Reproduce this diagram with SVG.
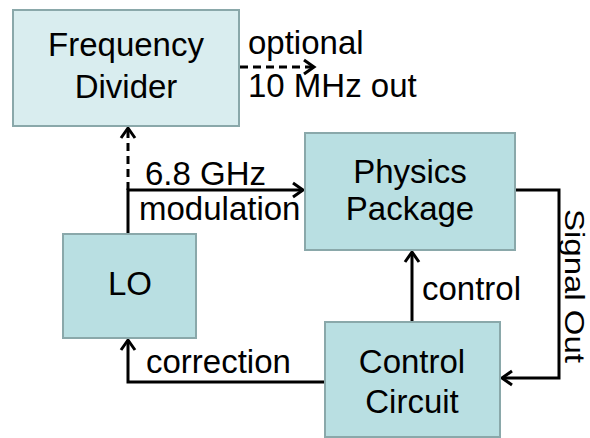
<svg xmlns="http://www.w3.org/2000/svg" width="590" height="438" viewBox="0 0 590 438">
<style>
.box{fill:#b9dfe2;stroke:#8aa8aa;stroke-width:2}
.light{fill:#d9edef}
.t{font-family:"Liberation Sans",Arial,sans-serif;font-size:33px;fill:#000}
.c{text-anchor:middle}
.ln{fill:none;stroke:#000;stroke-width:3}
.dash{stroke-dasharray:8 5}
</style>
<defs>
<marker id="arr" markerUnits="userSpaceOnUse" markerWidth="20" markerHeight="20" viewBox="-12 -10 14 20" refX="0" refY="0" orient="auto">
<path d="M-10,-7 L0,0 L-10,7" fill="none" stroke="#000" stroke-width="3"/>
</marker>
</defs>
<g id="connectors">
<path class="ln dash" d="M128,190 L128,128" marker-end="url(#arr)"/>
<path class="ln" d="M128,234 L128,190 L303,190" marker-end="url(#arr)"/>
<path class="ln dash" d="M240,67 L314,67" marker-end="url(#arr)"/>
<path class="ln" d="M515,190 L559,190 L559,378 L502,378" marker-end="url(#arr)"/>
<path class="ln" d="M412,322 L412,252" marker-end="url(#arr)"/>
<path class="ln" d="M325,382 L128,382 L128,340" marker-end="url(#arr)"/>
<text class="t" x="248" y="54">optional</text>
<text class="t" x="248" y="97">10 MHz out</text>
<text class="t" x="145" y="185">6.8 GHz</text>
<text class="t" x="139" y="220">modulation</text>
<text class="t" x="422" y="300">control</text>
<text class="t" x="146" y="373">correction</text>
<text class="t c" transform="translate(565,286) rotate(90) scale(1,0.82)">Signal Out</text>
</g>
<g id="freq-divider">
<rect class="box light" x="13" y="10" width="226" height="116"/>
<text class="t c" x="126" y="56">Frequency</text>
<text class="t c" x="126" y="98">Divider</text>
</g>
<g id="physics-package">
<rect class="box" x="305" y="133" width="210" height="117"/>
<text class="t c" x="410" y="183">Physics</text>
<text class="t c" x="410" y="220">Package</text>
</g>
<g id="lo">
<rect class="box" x="63" y="234" width="133" height="104"/>
<text class="t c" x="130" y="295">LO</text>
</g>
<g id="control-circuit">
<rect class="box" x="325" y="322" width="175" height="115"/>
<text class="t c" x="412" y="373">Control</text>
<text class="t c" x="412" y="413">Circuit</text>
</g>
</svg>
